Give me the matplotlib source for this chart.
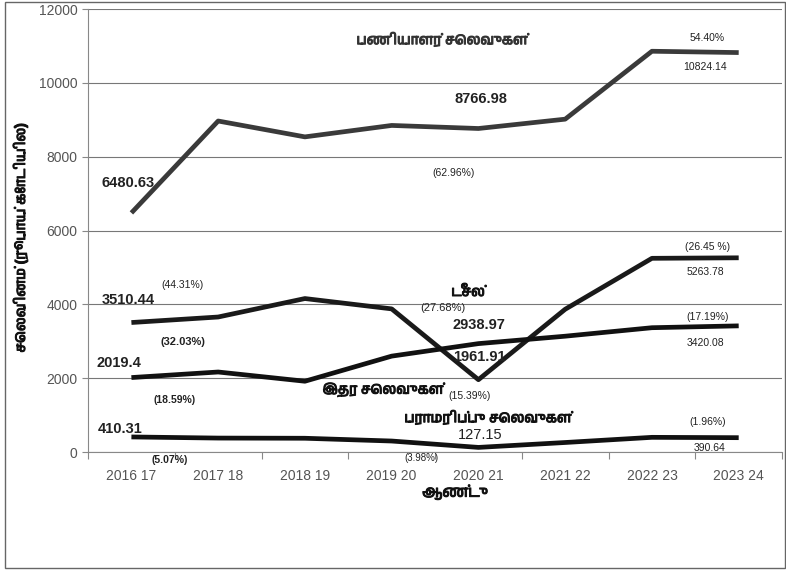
import matplotlib
matplotlib.use("Agg")
import matplotlib.pyplot as plt
import matplotlib.patheffects as pe
from matplotlib import font_manager
from matplotlib.ft2font import FT2Font
from matplotlib.patches import Rectangle


# chercher une police qui a les glyphes tamouls (de preference pas mono)
def find_tamil():
    found = []
    for f in font_manager.fontManager.ttflist:
        try:
            ft = FT2Font(f.fname)
            if ft.get_char_index(0x0BA4):
                found.append(f.name)
        except Exception:
            pass
    found.sort(key=lambda n: ("Mono" in n, n))
    return found[0] if found else None

tamil = find_tamil()
fams = ["Liberation Sans"]
if tamil:
    fams.append(tamil)
fams.append("DejaVu Sans")
plt.rcParams['font.family'] = fams

years = ["2016 17", "2017 18", "2018 19", "2019 20", "2020 21", "2021 22", "2022 23", "2023 24"]

staff = [6480.63, 8970, 8540, 8850, 8766.98, 9020, 10860, 10824.14]
diesel = [3510.44, 3660, 4160, 3880, 1961.91, 3870, 5250, 5263.78]
other = [2019.4, 2170, 1920, 2600, 2938.97, 3140, 3370, 3420.08]
maint = [410.31, 380, 375, 300, 127.15, 260, 400, 390.64]

series_names = ["பணியாளர் செலவுகள்", "டீசல்", "இதர செலவுகள்", "பராமரிப்பு செலவுகள்"]
ylabel = "செலவினம் (ரூபாய் கோடியில்)"
xlabel = "ஆண்டு"

fig = plt.figure(figsize=(7.86, 5.73), dpi=100)
ax = fig.add_axes([0.112, 0.211, 0.883, 0.773])

x = list(range(len(years)))
ax.plot(x, staff, color="#3a3a3a", lw=3.4, solid_capstyle="butt")
ax.plot(x, diesel, color="#1a1a1a", lw=3.4, solid_capstyle="butt")
ax.plot(x, other, color="#111111", lw=3.4, solid_capstyle="butt")
ax.plot(x, maint, color="#111111", lw=3.4, solid_capstyle="butt")

ax.set_xlim(-0.5, 7.5)
ax.set_ylim(0, 12000)
ax.set_yticks(range(0, 12001, 2000))
ax.set_xticks([i + 0.5 for i in range(-1, 8)], minor=False)
ax.set_xticklabels([])
ax.set_xticks(x, minor=True)
ax.set_xticklabels(years, minor=True)
ax.tick_params(axis="x", which="major", length=5, color="#888888", direction="out")
ax.tick_params(axis="x", which="minor", length=0, labelsize=10, labelcolor="#555555", pad=12)
ax.tick_params(axis="y", length=4, color="#888888", labelsize=10, labelcolor="#555555")
ax.grid(axis="y", color="#777777", lw=0.8)
ax.set_axisbelow(True)
for s in ["top", "right"]:
    ax.spines[s].set_visible(False)
ax.spines["left"].set_color("#888888")
ax.spines["bottom"].set_color("#888888")

# la police tamoule n'a pas de gras: on epaissit avec un contour
gras = [pe.withStroke(linewidth=0.7, foreground="#111111")]

fig.text(0.026, 0.585, ylabel, rotation=90, ha="center", va="center", fontsize=10,
         fontweight="bold", color="#111111", path_effects=gras)
fig.text(0.579, 0.141, xlabel, ha="center", va="center", fontsize=11, fontweight="bold",
         color="#111111", path_effects=gras)

# etiquettes (pixels de l'image)
def lab(px, py, s, size=8, bold=False, color="#222222", stroke=False):
    t = fig.text(px / 786, 1 - py / 573, s, ha="center", va="center", fontsize=size,
                 fontweight="bold" if bold else "normal", color=color)
    if stroke:
        t.set_path_effects([pe.withStroke(linewidth=0.7, foreground=color)])

lab(442, 40, series_names[0], 10, True, "#333333", True)
lab(468, 292, series_names[1], 10, True, "#111111", True)
lab(383, 390, series_names[2], 10, True, "#111111", True)
lab(488, 418, series_names[3], 10, True, "#111111", True)

lab(128, 183, "%.2f" % staff[0], 10.5, True)
lab(481, 99, "%.2f" % staff[4], 10.5, True)
lab(454, 173, "(62.96%)", 7.5)
lab(707, 38, "54.40%", 7.5)
lab(705, 67, "%.2f" % staff[7], 7.5)

lab(128, 300, "%.2f" % diesel[0], 10.5, True)
lab(183, 285, "(44.31%)", 7.5)
lab(479, 357, "%.2f" % diesel[4], 10.5, True)
lab(443, 308, "(27.68%)", 8)
lab(708, 247, "(26.45 %)", 7.5)
lab(705, 272, "%.2f" % diesel[7], 7.5)

lab(119, 363, "%.1f" % other[0], 10.5, True)
lab(183, 342, "(32.03%)", 8, True)
lab(479, 325, "%.2f" % other[4], 10.5, True)
lab(470, 396, "(15.39%)", 7.5)
lab(708, 317, "(17.19%)", 7.5)
lab(705, 343, "%.2f" % other[7], 7.5)

lab(120, 429, "%.2f" % maint[0], 10.5, True)
lab(175, 400, "(18.59%)", 7.5, True)
lab(170, 460, "(5.07%)", 7.5, True)
lab(480, 435, "%.2f" % maint[4], 10.5)
lab(421, 458, "(3.98%)", 7)
lab(708, 422, "(1.96%)", 7.5)
lab(710, 448, "%.2f" % maint[7], 7.5)

fig.patches.append(Rectangle((5 / 786, 5 / 573), 780 / 786, 566 / 573, transform=fig.transFigure,
                             fill=False, edgecolor="#666666", lw=1))

plt.savefig("out.png", dpi=100)
